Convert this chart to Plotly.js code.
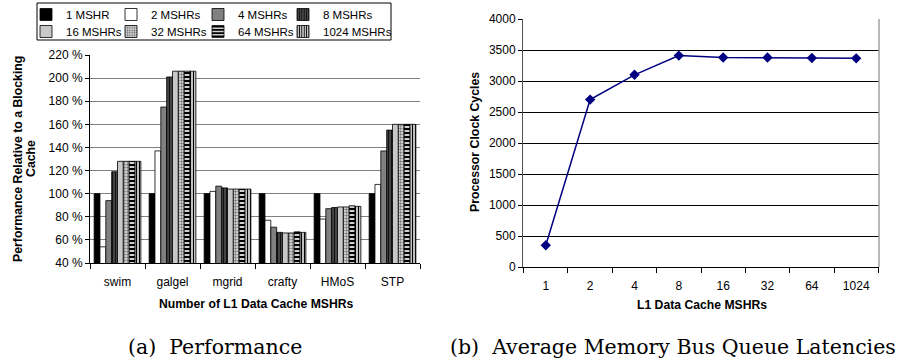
<!DOCTYPE html>
<html>
<head>
<meta charset="utf-8">
<script src="https://cdn.plot.ly/plotly-3.0.1.min.js"></script>
<style>html,body{margin:0;padding:0;background:#fff;}#chart{width:899px;height:362px;}</style>
</head>
<body>
<div id="chart"></div>
<script>
// Left chart data
const benchmarks = ["swim", "galgel", "mgrid", "crafty", "HMoS", "STP"];
const seriesNames = ["1 MSHR", "2 MSHRs", "4 MSHRs", "8 MSHRs", "16 MSHRs", "32 MSHRs", "64 MSHRs", "1024 MSHRs"];
const mshr1    = [100, 100, 100, 100, 100, 100];
const mshr2    = [54, 137, 102, 77, 78, 108];
const mshr4    = [94, 175, 106.5, 71, 87, 137];
const mshr8    = [119, 201, 105, 66.5, 88, 155];
const mshr16   = [128, 206, 104, 66, 88.5, 160];
const mshr32   = [128, 206, 104, 66, 88.5, 160];
const mshr64   = [128, 206, 104, 67, 89.5, 160];
const mshr1024 = [128, 206, 104, 66.5, 89, 160];
const perfTicks = [40, 60, 80, 100, 120, 140, 160, 180, 200, 220];
const perfTickText = ["40 %", "60 %", "80 %", "100 %", "120 %", "140 %", "160 %", "180 %", "200 %", "220 %"];

// Right chart data
const mshrCounts = ["1", "2", "4", "8", "16", "32", "64", "1024"];
const latency = [350, 2700, 3100, 3410, 3380, 3380, 3370, 3365];

const seriesValues = [mshr1, mshr2, mshr4, mshr8, mshr16, mshr32, mshr64, mshr1024];
const styles = [
  {color: "#000000", pattern: {shape: ""}},
  {color: "#ffffff", pattern: {shape: ""}},
  {color: "#808080", pattern: {shape: ""}},
  {color: "#3a3a3a", pattern: {shape: "|", fgcolor: "#111111", bgcolor: "#4a4a4a", size: 3, solidity: 0.4}},
  {color: "#c8c8c8", pattern: {shape: ""}},
  {color: "#ffffff", pattern: {shape: ".", fgcolor: "#777777", bgcolor: "#e8e8e8", size: 3, solidity: 0.5}},
  {color: "#ffffff", pattern: {shape: "-", fgcolor: "#000000", bgcolor: "#d0d0d0", size: 4, solidity: 0.5}},
  {color: "#ffffff", pattern: {shape: "|", fgcolor: "#000000", bgcolor: "#ffffff", size: 3, solidity: 0.5}}
];

const legendIds = ["legend", "legend2", "legend3", "legend4", "legend5", "legend6", "legend7", "legend8"];

const traces = seriesValues.map((vals, i) => ({
  type: "bar",
  name: seriesNames[i],
  x: benchmarks,
  y: vals,
  xaxis: "x",
  yaxis: "y",
  legend: legendIds[i],
  marker: {color: styles[i].color, pattern: styles[i].pattern, line: {color: "#000", width: 0.8}},
  hoverinfo: "skip"
}));

traces.push({
  type: "scatter",
  mode: "lines+markers",
  x: mshrCounts,
  y: latency,
  xaxis: "x2",
  yaxis: "y2",
  showlegend: false,
  line: {color: "#000080", width: 1.5},
  marker: {symbol: "diamond", size: 8, color: "#000080"}
});

const fontA = "Liberation Sans, Arial, sans-serif";
const legendBase = {
  orientation: "h", xanchor: "left", yanchor: "top",
  borderwidth: 0, bgcolor: "rgba(0,0,0,0)",
  font: {size: 11.5, family: fontA}, traceorder: "normal",
  itemwidth: 30, tracegroupgap: 0
};
const colX = [26, 111, 198, 283];
const rowY = [0, 17];

const layout = {
  width: 899, height: 362,
  margin: {l: 0, r: 0, t: 0, b: 0},
  paper_bgcolor: "#fff", plot_bgcolor: "rgba(0,0,0,0)",
  font: {family: fontA, size: 12, color: "#000"},
  barmode: "group",
  bargap: 0.15, bargroupgap: 0,
  showlegend: true,
  xaxis: {
    domain: [90/899, 420/899], anchor: "y",
    type: "category", showline: true, linecolor: "#000", linewidth: 1,
    ticks: "outside", tickson: "boundaries", ticklen: 5, tickcolor: "#000",
    ticklabelstandoff: 8,
    tickfont: {size: 12}, showgrid: false, zeroline: false
  },
  yaxis: {
    domain: [(362-263)/362, (362-55)/362], anchor: "x",
    range: [40, 220], tickvals: perfTicks, ticktext: perfTickText,
    showline: true, linecolor: "#000", linewidth: 1,
    ticks: "outside", ticklen: 4, tickcolor: "#000",
    gridcolor: "#808080", gridwidth: 1, zeroline: false, tickfont: {size: 12}
  },
  xaxis2: {
    domain: [523/899, 879/899], anchor: "y2",
    type: "category", showline: true, linecolor: "#000", linewidth: 1,
    ticks: "outside", tickson: "boundaries", ticklen: 5, tickcolor: "#000",
    ticklabelstandoff: 8,
    tickfont: {size: 12}, showgrid: false, zeroline: false
  },
  yaxis2: {
    domain: [(362-267)/362, (362-19)/362], anchor: "x2",
    range: [0, 4000], dtick: 500,
    showline: true, linecolor: "#555", linewidth: 1,
    ticks: "outside", ticklen: 4, tickcolor: "#000",
    gridcolor: "#000", gridwidth: 1, zeroline: false, tickfont: {size: 12}
  },
  shapes: [
    {type: "line", xref: "paper", yref: "paper", x0: 879/899, x1: 879/899, y0: (362-267)/362, y1: (362-19)/362,
     line: {color: "#a0a0a0", width: 1.5}},
    {type: "rect", xref: "paper", yref: "paper", x0: 37/899, x1: 391/899, y0: 1 - 40/362, y1: 1 - 3/362,
     line: {color: "#000", width: 1}, fillcolor: "rgba(0,0,0,0)", layer: "above"}
  ],
  annotations: [
    {text: "<b>Performance Relative to a Blocking</b>", xref: "paper", yref: "paper", x: 18/899, y: (362-159)/362,
     textangle: -90, showarrow: false, font: {size: 12.3, family: fontA}, xanchor: "center", yanchor: "middle"},
    {text: "<b>Cache</b>", xref: "paper", yref: "paper", x: 31/899, y: (362-159)/362,
     textangle: -90, showarrow: false, font: {size: 12.3, family: fontA}, xanchor: "center", yanchor: "middle"},
    {text: "<b>Number of L1 Data Cache MSHRs</b>", xref: "paper", yref: "paper", x: 256/899, y: (362-304)/362,
     showarrow: false, font: {size: 12.2, family: fontA}, xanchor: "center", yanchor: "middle"},
    {text: "<b>Processor Clock Cycles</b>", xref: "paper", yref: "paper", x: 475/899, y: (362-142)/362,
     textangle: -90, showarrow: false, font: {size: 12.3, family: fontA}, xanchor: "center", yanchor: "middle"},
    {text: "<b>L1 Data Cache MSHRs</b>", xref: "paper", yref: "paper", x: 702/899, y: (362-305)/362,
     showarrow: false, font: {size: 12.2, family: fontA}, xanchor: "center", yanchor: "middle"},
    {text: "(a)  Performance", xref: "paper", yref: "paper", x: 215/899, y: (362-347)/362,
     showarrow: false, font: {size: 20.5, family: "DejaVu Serif, serif"}, xanchor: "center", yanchor: "middle"},
    {text: "(b)  Average Memory Bus Queue Latencies", xref: "paper", yref: "paper", x: 673/899, y: (362-347)/362,
     showarrow: false, font: {size: 20.5, family: "DejaVu Serif, serif"}, xanchor: "center", yanchor: "middle"}
  ]
};

legendIds.forEach((id, i) => {
  layout[id] = Object.assign({}, legendBase, {
    x: colX[i % 4] / 899,
    y: 1 - rowY[Math.floor(i / 4)] / 362
  });
});

Plotly.newPlot("chart", traces, layout, {displayModeBar: false, staticPlot: true});
</script>
</body>
</html>
